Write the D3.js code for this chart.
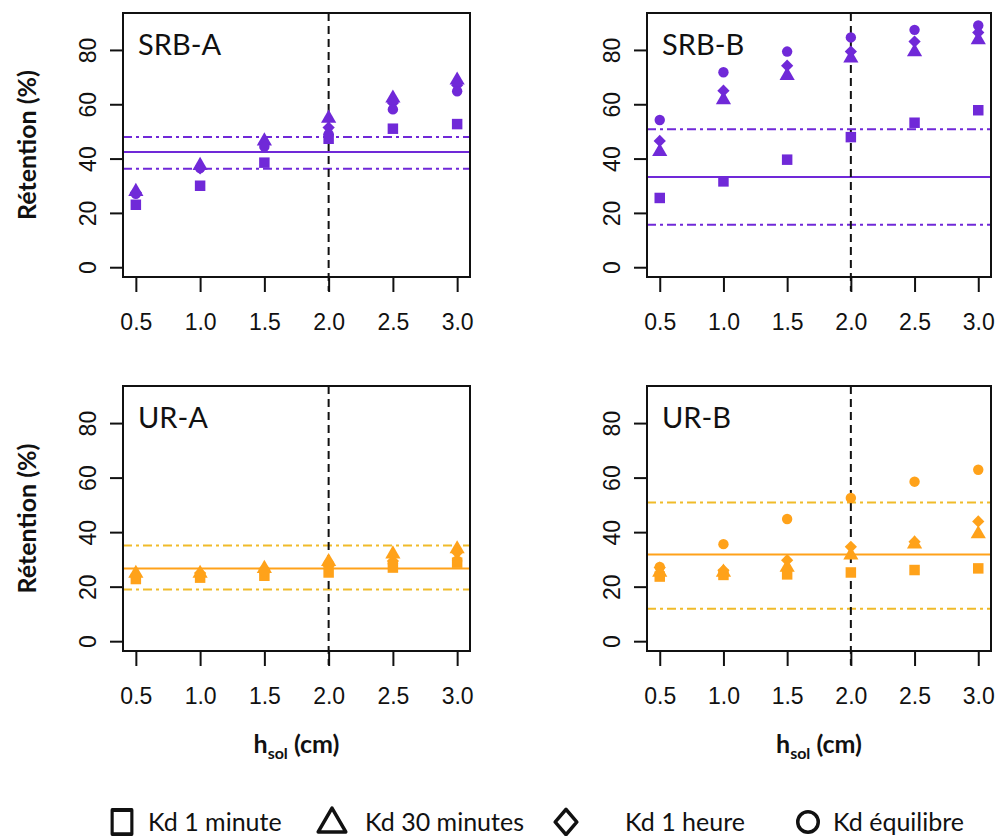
<!DOCTYPE html>
<html><head><meta charset="utf-8">
<script src="https://cdn.jsdelivr.net/npm/d3@7"></script>
<style>body{margin:0;background:#fff}svg{display:block}</style>
</head><body>
<script>
// ---- data ----
const hsol = [0.5, 1.0, 1.5, 2.0, 2.5, 3.0];
const xTicks = [0.5, 1.0, 1.5, 2.0, 2.5, 3.0];
const yTicks = [0, 20, 40, 60, 80];
const panelNames = ["SRB-A", "SRB-B", "UR-A", "UR-B"];
const seriesNames = ["Kd 1 minute", "Kd 30 minutes", "Kd 1 heure", "Kd équilibre"];

const srbA_1min = [23, 30, 38.5, 47.3, 51, 52.7];
const srbA_30min = [28.4, 38, 47, 55.4, 62.8, 69.4];
const srbA_1h = [27.5, 36.4, 45.6, 51.4, 60.5, 67];
const srbA_eq = [27, 36.5, 44.4, 49, 58.1, 64.8];
const srbA_lines = [42.4, 47.9, 36.3];

const srbB_1min = [25.5, 31.6, 39.6, 47.9, 53.2, 57.8];
const srbB_30min = [43.1, 62.2, 71.1, 77.5, 79.8, 84.3];
const srbB_1h = [46.5, 65, 74.2, 79.4, 83.1, 86.4];
const srbB_eq = [54.2, 71.8, 79.4, 84.6, 87.4, 89];
const srbB_lines = [33.2, 50.8, 15.6];

const urA_1min = [22.8, 23.3, 24, 25.2, 27, 28.8];
const urA_30min = [25.4, 25.4, 27.2, 29.7, 32.5, 34.4];
const urA_1h = [24, 25, 26.5, 27.6, 29.4, 32.5];
const urA_eq = [23.5, 24, 25.5, 28.5, 28.5, 29.5];
const urA_lines = [26.7, 35.1, 19.0];

const urB_1min = [23.7, 24.3, 24.5, 25.2, 26.1, 26.7];
const urB_30min = [25.8, 25.8, 27.6, 32.1, 36.2, 39.9];
const urB_1h = [27, 26, 29.7, 34.6, 36.5, 43.9];
const urB_eq = [27.2, 35.6, 44.8, 52.5, 58.5, 62.9];
const urB_lines = [31.8, 50.9, 11.9];

const panelSeries = [
  [srbA_1min, srbA_30min, srbA_1h, srbA_eq],
  [srbB_1min, srbB_30min, srbB_1h, srbB_eq],
  [urA_1min, urA_30min, urA_1h, urA_eq],
  [urB_1min, urB_30min, urB_1h, urB_eq]
];
const panelLines = [srbA_lines, srbB_lines, urA_lines, urB_lines];
const panelColors = ["#7029d8", "#7029d8", "#ffa21a", "#ffa21a"];
const panelDashColors = ["#7029d8", "#7029d8", "#f0bb2a", "#f0bb2a"];

// ---- layout ----
const W = 997, H = 836;
const svg = d3.select("body").append("svg").attr("width", W).attr("height", H);
const boxes = [
  {x0: 123, x1: 470, y0: 13, y1: 277},
  {x0: 647, x1: 991, y0: 13, y1: 277},
  {x0: 123, x1: 470, y0: 386, y1: 651},
  {x0: 647, x1: 991, y0: 386, y1: 651}
];
const tickFont = "'Liberation Sans', Arial, sans-serif";
const calFont = "Lato, 'Open Sans', sans-serif";

const rDiamond = {
  draw(ctx, size) {
    const r = Math.sqrt(size / 2);
    ctx.moveTo(0, -r); ctx.lineTo(r, 0); ctx.lineTo(0, r); ctx.lineTo(-r, 0); ctx.closePath();
  }
};
const symTypes = [d3.symbolSquare, d3.symbolTriangle, rDiamond, d3.symbolCircle];
const symSizes = [110, 100, 75, 85];

panelNames.forEach((name, i) => {
  const b = boxes[i];
  const x = d3.scaleLinear().domain([0.4, 3.1]).range([b.x0, b.x1]);
  const y = d3.scaleLinear().domain([-3.6, 93.6]).range([b.y1, b.y0]);
  const g = svg.append("g");
  const col = panelColors[i];

  // horizontal reference lines
  const [mean, up, lo] = panelLines[i];
  g.append("line").attr("x1", b.x0).attr("x2", b.x1).attr("y1", y(mean)).attr("y2", y(mean))
    .attr("stroke", col).attr("stroke-width", 2);
  [up, lo].forEach(v => {
    g.append("line").attr("x1", b.x0).attr("x2", b.x1).attr("y1", y(v)).attr("y2", y(v))
      .attr("stroke", panelDashColors[i]).attr("stroke-width", 2).attr("stroke-dasharray", "9,4,3,4");
  });

  // vertical dashed line at 2.0
  g.append("line").attr("x1", x(2)).attr("x2", x(2)).attr("y1", b.y0).attr("y2", b.y1 + 14)
    .attr("stroke", "#111").attr("stroke-width", 2).attr("stroke-dasharray", "8,5");

  // points
  panelSeries[i].forEach((vals, s) => {
    const sym = d3.symbol().type(symTypes[s]).size(symSizes[s]);
    g.selectAll(null).data(vals).enter().append("path")
      .attr("d", sym)
      .attr("transform", (d, k) => {
        let sy = y(d);
        if (s === 1) sy += 1.5;
        return `translate(${x(hsol[k])},${sy})`;
      })
      .attr("fill", col);
  });

  // frame
  g.append("rect").attr("x", b.x0).attr("y", b.y0).attr("width", b.x1 - b.x0).attr("height", b.y1 - b.y0)
    .attr("fill", "none").attr("stroke", "#111").attr("stroke-width", 2);

  // x axis
  const xa = g.append("g").attr("transform", `translate(0,${b.y1})`)
    .call(d3.axisBottom(x).tickValues(xTicks).tickFormat(d3.format(".1f")).tickSize(15).tickPadding(22));
  xa.attr("font-family", null);
  xa.select(".domain").remove();
  xa.selectAll(".tick line").attr("stroke", "#111").attr("stroke-width", 2);
  xa.selectAll(".tick text").style("font-family", tickFont).style("font-size", "23px").attr("fill", "#111");

  // y axis
  const ya = g.append("g").attr("transform", `translate(${b.x0},0)`)
    .call(d3.axisLeft(y).tickValues(yTicks).tickSize(13).tickPadding(0));
  ya.attr("font-family", null);
  ya.select(".domain").remove();
  ya.selectAll(".tick line").attr("stroke", "#111").attr("stroke-width", 2);
  ya.selectAll(".tick text").style("font-family", tickFont).style("font-size", "23px").attr("fill", "#111")
    .attr("text-anchor", "middle").attr("x", 0).attr("dy", 0)
    .attr("transform", "translate(-35,0) rotate(-90)")
    .attr("dominant-baseline", "central");

  // panel label
  g.append("text").attr("x", b.x0 + 15).attr("y", b.y0 + 42).text(name)
    .attr("font-family", calFont).attr("font-size", 29).attr("fill", "#111");

  // y title for left panels
  if (i % 2 === 0) {
    g.append("text").attr("transform", `translate(36,${(b.y0 + b.y1) / 2}) rotate(-90)`)
      .attr("text-anchor", "middle").attr("font-family", calFont).attr("font-weight", "bold")
      .attr("font-size", 25).attr("fill", "#111").text("Rétention (%)");
  }
  // x title for bottom panels
  if (i >= 2) {
    const t = g.append("text").attr("x", (b.x0 + b.x1) / 2).attr("y", 753)
      .attr("text-anchor", "middle").attr("font-family", calFont).attr("font-weight", "bold")
      .attr("font-size", 25).attr("fill", "#111");
    t.append("tspan").text("h");
    t.append("tspan").attr("font-size", 16).attr("dy", 6).text("sol");
    t.append("tspan").attr("dy", -6).text(" (cm)");
  }
});

// ---- legend ----
const legX = [122, 332, 566, 808];
const legTextX = [148, 365, 625, 833];
const lg = svg.append("g");
seriesNames.forEach((nm, s) => {
  const sym = d3.symbol().type(symTypes[s]).size([480, 330, 260, 330][s]);
  lg.append("path").attr("d", sym)
    .attr("transform", s === 2 ? `translate(${legX[s]},822) scale(0.95,1.1)` :
                       s === 0 ? `translate(${legX[s]},822) scale(0.9,1.1)` :
                       `translate(${legX[s]},${s === 1 ? 824 : 822})`)
    .attr("fill", "none").attr("stroke", "#111").attr("stroke-width", 3.5)
    .attr("stroke-linejoin", "round");
  lg.append("text").attr("x", legTextX[s]).attr("y", 831).text(nm)
    .attr("font-family", calFont).attr("font-size", 25).attr("fill", "#111");
});
</script>
</body></html>
